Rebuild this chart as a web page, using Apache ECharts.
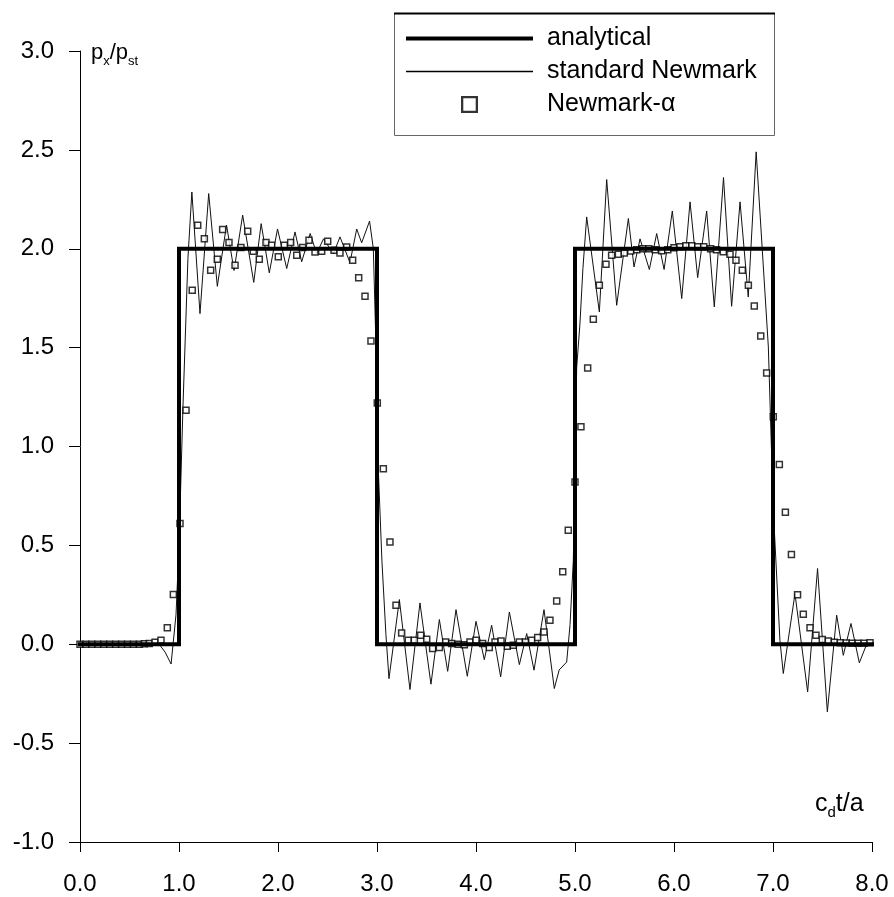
<!DOCTYPE html>
<html>
<head>
<meta charset="utf-8">
<script src="https://cdn.jsdelivr.net/npm/echarts@6/dist/echarts.min.js"></script>
<style>
html,body{margin:0;padding:0;background:#fff;}
#c{width:894px;height:897px;}
</style>
</head>
<body>
<div id="c"></div>
<script>
// ---- data (x = c_d t / a, y = p_x / p_st) ----
const analytical = [[0,0],[1,0],[1,2],[3,2],[3,0],[5,0],[5,2],[7,2],[7,0],[8,0]];

const standardNewmark = [
[0,0],[0.80,0],[0.86,-0.04],[0.92,-0.10],[0.97,0.15],[1.0,0.5],[1.04,1.2],[1.09,1.95],[1.13,2.287],
[1.212,1.672],[1.30,2.279],[1.387,1.81],[1.48,2.12],[1.556,1.89],[1.643,2.17],[1.755,1.83],
[1.83,2.127],[1.912,1.878],[1.995,2.10],[2.088,1.90],[2.172,2.085],[2.239,1.934],[2.325,2.077],
[2.39,1.976],[2.46,2.05],[2.56,1.975],[2.626,2.06],[2.727,1.93],[2.795,2.10],[2.845,2.03],
[2.925,2.14],[2.963,2.0],[2.99,1.5],[3.0,1.05],[3.05,0.42],[3.09,0.05],[3.121,-0.174],
[3.226,0.226],[3.333,-0.229],[3.434,0.209],[3.545,-0.202],[3.63,0.125],[3.714,-0.137],
[3.798,0.175],[3.912,-0.162],[4.0,0.116],[4.084,-0.078],[4.158,0.096],[4.249,-0.165],
[4.337,0.163],[4.438,-0.103],[4.512,0.054],[4.586,-0.131],[4.687,0.175],[4.791,-0.224],
[4.84,-0.13],[4.916,-0.09],[4.95,0.1],[4.983,0.425],[5.017,1.40],[5.05,1.62],[5.08,1.9],
[5.118,2.161],[5.246,1.68],[5.32,2.35],[5.421,1.714],[5.539,2.153],[5.596,1.908],[5.657,2.05],
[5.751,1.895],[5.825,2.077],[5.9,1.895],[5.983,2.191],[6.078,1.748],[6.162,2.237],[6.239,1.854],
[6.33,2.191],[6.407,1.706],[6.50,2.36],[6.582,1.709],[6.667,2.237],[6.75,1.756],[6.83,2.49],
[6.953,1.503],[7.003,0.68],[7.07,0.02],[7.104,-0.148],[7.222,0.256],[7.35,-0.241],[7.45,0.383],
[7.549,-0.342],[7.643,0.147],[7.71,-0.056],[7.788,0.105],[7.872,-0.094],[7.946,0.0],[8.0,0.0]
];

const newmarkAlpha = [
[0.0,0],[0.06,0],[0.12,0],[0.18,0],[0.24,0],[0.30,0],[0.36,0],[0.42,0],[0.48,0],[0.54,0],
[0.60,0],[0.65,0.002],[0.70,0.004],[0.758,0.01],[0.818,0.02],[0.882,0.083],[0.943,0.251],
[1.01,0.61],[1.071,1.183],[1.134,1.79],[1.189,2.119],[1.256,2.05],[1.32,1.891],[1.387,1.947],
[1.441,2.097],[1.505,2.031],[1.566,1.917],[1.626,2.006],[1.694,2.088],[1.75,1.987],[1.811,1.947],
[1.879,2.031],[1.936,2.018],[2.003,1.959],[2.064,2.018],[2.128,2.031],[2.189,1.967],[2.249,2.006],
[2.313,2.043],[2.374,1.984],[2.441,1.987],[2.502,2.038],[2.566,1.992],[2.626,1.979],[2.694,2.009],
[2.754,1.942],[2.815,1.853],[2.879,1.76],[2.939,1.534],[3.003,1.22],[3.064,0.888],[3.131,0.517],
[3.192,0.197],[3.249,0.057],[3.316,0.02],[3.377,0.02],[3.441,0.046],[3.502,0.025],[3.562,-0.022],
[3.63,-0.017],[3.694,0.012],[3.754,0.004],[3.82,0.0],[3.882,-0.002],[3.939,0.012],[4.0,0.02],
[4.067,0.004],[4.134,-0.017],[4.192,0.012],[4.253,0.017],[4.316,-0.01],[4.377,-0.005],[4.438,0.012],
[4.5,0.012],[4.562,0.02],[4.623,0.034],[4.687,0.062],[4.747,0.121],[4.815,0.219],[4.876,0.366],
[4.932,0.576],[5.0,0.821],[5.06,1.10],[5.128,1.397],[5.185,1.643],[5.246,1.815],[5.313,1.922],
[5.37,1.967],[5.438,1.972],[5.498,1.979],[5.563,1.989],[5.624,1.995],[5.685,2.0],[5.746,2.0],
[5.81,1.995],[5.876,1.99],[5.937,1.995],[6.0,2.005],[6.06,2.01],[6.12,2.015],[6.18,2.015],
[6.24,2.01],[6.3,2.01],[6.37,2.0],[6.43,1.995],[6.498,1.985],[6.566,1.972],[6.626,1.942],
[6.69,1.891],[6.751,1.815],[6.811,1.711],[6.876,1.559],[6.936,1.372],[7.003,1.15],[7.064,0.909],
[7.125,0.668],[7.186,0.454],[7.248,0.25],[7.306,0.152],[7.374,0.084],[7.434,0.046],[7.498,0.024],
[7.559,0.017],[7.62,0.01],[7.68,0.008],[7.74,0.006],[7.80,0.005],[7.86,0.005],[7.92,0.005],[7.98,0.008]
];

const seriesNames = ['analytical', 'standard Newmark', 'Newmark-\u03B1'];
const xRange = [0, 8, 1];
const yRange = [-1, 3, 0.5];

// ---- chart ----
const FONT = '"Liberation Sans", Arial, Helvetica, sans-serif';
const chart = echarts.init(document.getElementById('c'), null, {renderer: 'canvas'});
chart.setOption({
  backgroundColor: '#fff',
  animation: false,
  textStyle: {fontFamily: FONT, color: '#000'},
  grid: {left: 80, right: 22, top: 51, bottom: 55, containLabel: false},
  xAxis: {
    type: 'value', min: xRange[0], max: xRange[1], interval: xRange[2],
    axisLine: {show: true, onZero: false, lineStyle: {color: '#000', width: 1}},
    axisTick: {show: true, length: 10, lineStyle: {color: '#000', width: 1}},
    axisLabel: {fontSize: 24, fontFamily: FONT, color: '#000', margin: 30,
      formatter: v => v.toFixed(1)},
    splitLine: {show: false}
  },
  yAxis: {
    type: 'value', min: yRange[0], max: yRange[1], interval: yRange[2],
    axisLine: {show: true, onZero: false, lineStyle: {color: '#000', width: 1}},
    axisTick: {show: true, length: 11, lineStyle: {color: '#000', width: 1}},
    axisLabel: {fontSize: 24, fontFamily: FONT, color: '#000', margin: 26,
      formatter: v => v.toFixed(1)},
    splitLine: {show: false}
  },
  legend: {
    orient: 'vertical', left: 406, top: 26, padding: 0,
    itemWidth: 127, itemHeight: 17, itemGap: 8,
    selectedMode: false,
    textStyle: {fontSize: 25, fontFamily: FONT, color: '#000', padding: [0, 0, 0, 9]},
    data: [
      {name: seriesNames[0], icon: 'path://M0,0H127V4H0Z',
        itemStyle: {color: '#000', borderWidth: 0}},
      {name: seriesNames[1], icon: 'path://M0,0H127V1.3H0Z',
        itemStyle: {color: '#000', borderWidth: 0}},
      {name: seriesNames[2], icon: 'path://M0,0H17V17H0Z M2.3,2.3V14.7H14.7V2.3Z',
        itemStyle: {color: '#000', borderWidth: 0}}
    ]
  },
  graphic: [
    {type: 'rect', shape: {x: 394.5, y: 13.5, width: 380, height: 122},
      style: {fill: 'none', stroke: '#666', lineWidth: 1}, z: 10},
    {type: 'line', shape: {x1: 394, y1: 13.5, x2: 775, y2: 13.5},
      style: {stroke: '#000', lineWidth: 2}, z: 11},
    {type: 'text', x: 91, y: 42, z: 20,
      style: {text: '{m|p}{s|x}{m|/p}{s|st}', fontFamily: FONT, fill: '#000',
        rich: {
          m: {fontSize: 22, lineHeight: 22, verticalAlign: 'top', fontFamily: FONT},
          s: {fontSize: 13, lineHeight: 13, verticalAlign: 'top', padding: [13, 0, 0, 0], fontFamily: FONT}
        }}},
    {type: 'text', x: 815, y: 792, z: 20,
      style: {text: '{m|c}{s|d}{m|t/a}', fontFamily: FONT, fill: '#000',
        rich: {
          m: {fontSize: 25, lineHeight: 25, verticalAlign: 'top', fontFamily: FONT},
          s: {fontSize: 15, lineHeight: 15, verticalAlign: 'top', padding: [13, 0, 0, 0], fontFamily: FONT}
        }}}
  ],
  series: [
    {
      name: seriesNames[1], type: 'line', data: standardNewmark, z: 2,
      symbol: 'none', lineStyle: {color: '#111', width: 1}, itemStyle: {color: '#111'}
    },
    {
      name: seriesNames[2], type: 'scatter', data: newmarkAlpha, z: 3,
      symbol: 'rect', symbolSize: 6,
      itemStyle: {color: '#fff', borderColor: '#000', borderWidth: 1.5}
    },
    {
      name: seriesNames[0], type: 'line', data: analytical, z: 4,
      symbol: 'none', lineStyle: {color: '#000', width: 4, join: 'miter', cap: 'square'},
      itemStyle: {color: '#000'}
    }
  ]
});
</script>
</body>
</html>
